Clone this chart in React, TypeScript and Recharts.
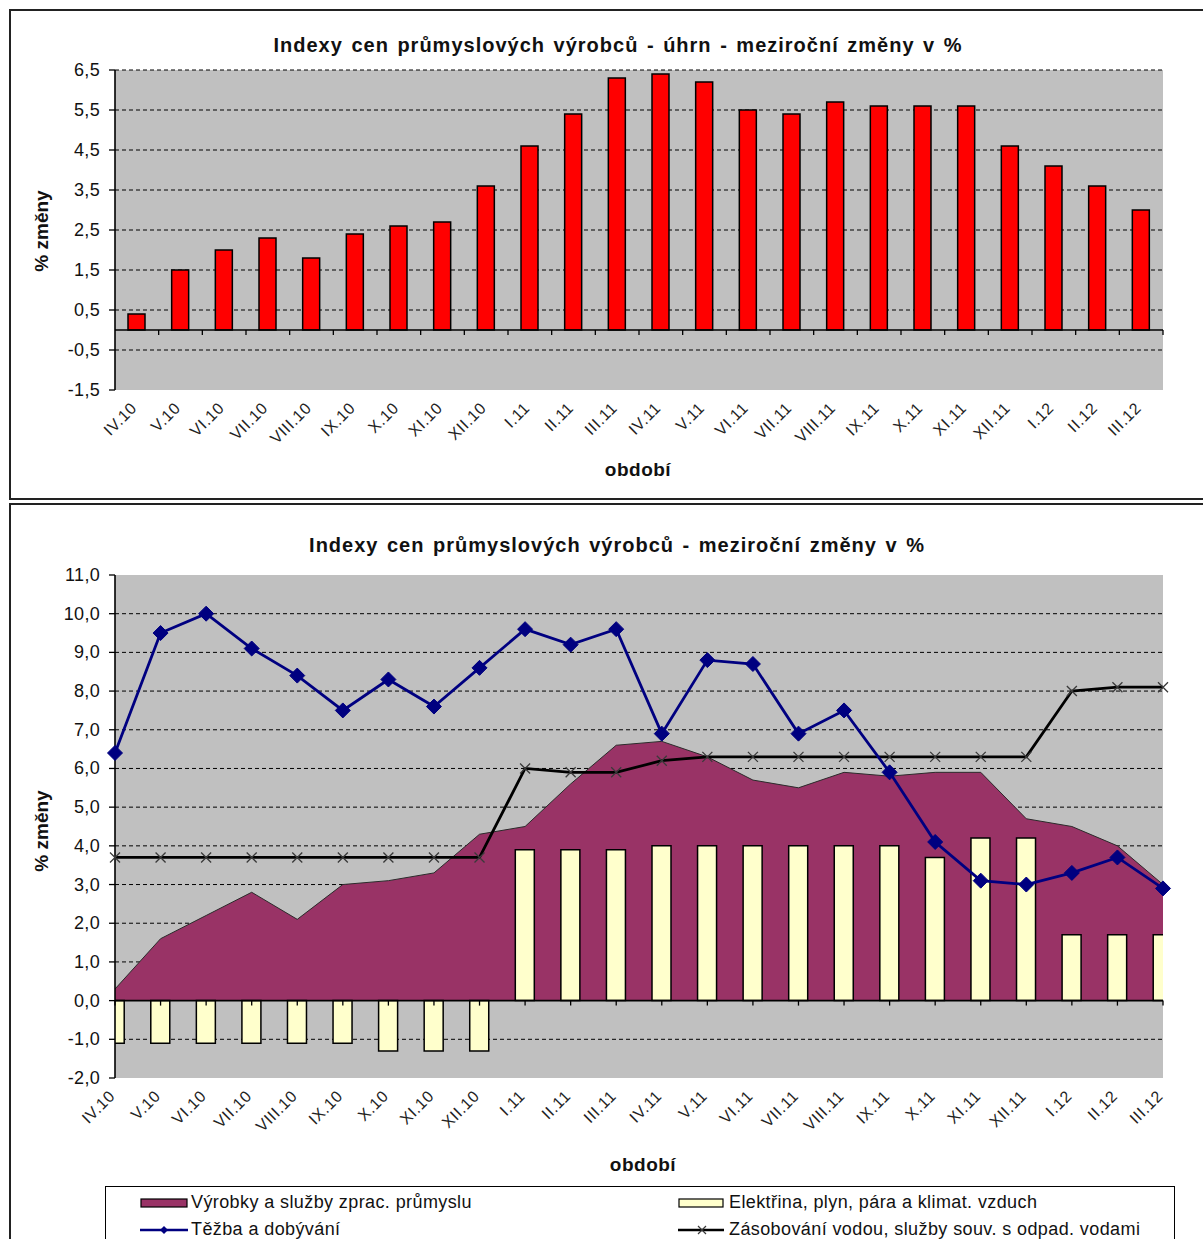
import React from "react";
import {
  BarChart,
  Bar,
  ComposedChart,
  Area,
  Line,
  XAxis,
  YAxis,
  CartesianGrid,
  ReferenceLine,
  ReferenceArea,
} from "recharts";

// období (měsíc.rok)
const months = [
  "IV.10", "V.10", "VI.10", "VII.10", "VIII.10", "IX.10", "X.10", "XI.10", "XII.10",
  "I.11", "II.11", "III.11", "IV.11", "V.11", "VI.11", "VII.11", "VIII.11", "IX.11",
  "X.11", "XI.11", "XII.11", "I.12", "II.12", "III.12",
];

// úhrn
const total = [
  0.4, 1.5, 2.0, 2.3, 1.8, 2.4, 2.6, 2.7, 3.6, 4.6, 5.4, 6.3,
  6.4, 6.2, 5.5, 5.4, 5.7, 5.6, 5.6, 5.6, 4.6, 4.1, 3.6, 3.0,
];

// Výrobky a služby zprac. průmyslu
const manufacturing = [
  0.3, 1.6, 2.2, 2.8, 2.1, 3.0, 3.1, 3.3, 4.3, 4.5, 5.6, 6.6,
  6.7, 6.3, 5.7, 5.5, 5.9, 5.8, 5.9, 5.9, 4.7, 4.5, 4.0, 3.0,
];

// Elektřina, plyn, pára a klimat. vzduch
const energy = [
  -1.1, -1.1, -1.1, -1.1, -1.1, -1.1, -1.3, -1.3, -1.3, 3.9, 3.9, 3.9,
  4.0, 4.0, 4.0, 4.0, 4.0, 4.0, 3.7, 4.2, 4.2, 1.7, 1.7, 1.7,
];

// Těžba a dobývání
const mining = [
  6.4, 9.5, 10.0, 9.1, 8.4, 7.5, 8.3, 7.6, 8.6, 9.6, 9.2, 9.6,
  6.9, 8.8, 8.7, 6.9, 7.5, 5.9, 4.1, 3.1, 3.0, 3.3, 3.7, 2.9,
];

// Zásobování vodou, služby souv. s odpad. vodami
const water = [
  3.7, 3.7, 3.7, 3.7, 3.7, 3.7, 3.7, 3.7, 3.7, 6.0, 5.9, 5.9,
  6.2, 6.3, 6.3, 6.3, 6.3, 6.3, 6.3, 6.3, 6.3, 8.0, 8.1, 8.1,
];

const topTicks = [-1.5, -0.5, 0.5, 1.5, 2.5, 3.5, 4.5, 5.5, 6.5];
const bottomTicks = [-2, -1, 0, 1, 2, 3, 4, 5, 6, 7, 8, 9, 10, 11];

const seriesNames = [
  "Výrobky a služby zprac. průmyslu",
  "Elektřina, plyn, pára a klimat. vzduch",
  "Těžba a dobývání",
  "Zásobování vodou, služby souv. s odpad. vodami",
];

const FONT = '"Liberation Sans", Arial, sans-serif';
const PLOT_BG = "#C0C0C0";
const PLUM = "#993366";
const CREAM = "#FFFFCC";
const NAVY = "#000080";

const topData = months.map((m, i) => ({ m, v: total[i] }));
const bottomData = months.map((m, i) => ({
  i,
  m,
  manufacturing: manufacturing[i],
  energy: energy[i],
  mining: mining[i],
  water: water[i],
}));
const indices = months.map((_, i) => i);

const fmt = (v: number) => v.toFixed(1).replace(".", ",");

// zero line acting as the category axis, with its tick marks spread along it
const zeroAxis = (steps: number, first: number) => (p: any) => {
  const { x1, x2, y1 } = p;
  const marks = [];
  for (let k = first; k <= steps; k++) {
    const x = x1 + ((x2 - x1) * k) / steps;
    marks.push(<line key={k} x1={x} x2={x} y1={y1} y2={y1 + 5} stroke="#000" strokeWidth={1.3} />);
  }
  return (
    <g>
      <line x1={x1} x2={x2} y1={y1} y2={y1} stroke="#000" strokeWidth={1.6} />
      {marks}
    </g>
  );
};

const YTick = (p: any) => (
  <text
    x={p.x - 7}
    y={p.y}
    dy={6}
    textAnchor="end"
    fontSize={18}
    fill="#111"
    fontFamily={FONT}
    letterSpacing={0.3}
  >
    {fmt(p.payload.value)}
  </text>
);

const catTick = (label: (v: any) => string) => (p: any) => {
  const x = p.x + 1;
  const y = p.y + 11;
  return (
    <text
      x={x}
      y={y}
      transform={`rotate(-45, ${x}, ${y})`}
      textAnchor="end"
      fontSize={16}
      fill="#222"
      fontFamily={FONT}
      letterSpacing={0.6}
    >
      {label(p.payload.value)}
    </text>
  );
};

const Diamond = (p: any) => {
  const { cx, cy, index } = p;
  if (cx == null || cy == null) return <g key={index} />;
  const r = 7.5;
  return (
    <path
      key={index}
      d={`M${cx},${cy - r}L${cx + r},${cy}L${cx},${cy + r}L${cx - r},${cy}Z`}
      fill={NAVY}
      stroke={NAVY}
    />
  );
};

const Cross = (p: any) => {
  const { cx, cy, index } = p;
  if (cx == null || cy == null) return <g key={index} />;
  const r = 5;
  return (
    <path
      key={index}
      d={`M${cx - r},${cy - r}L${cx + r},${cy + r}M${cx - r},${cy + r}L${cx + r},${cy - r}`}
      stroke="#3a3a3a"
      strokeWidth={1.3}
      fill="none"
    />
  );
};

function Label({ x, y, text, size = 19, rotate = false, spacing = 0, wordSpacing = 0 }: any) {
  return (
    <div
      style={{
        position: "absolute",
        left: x,
        top: y,
        transform: `translate(-50%, -50%)${rotate ? " rotate(-90deg)" : ""}`,
        fontWeight: "bold",
        fontSize: size,
        letterSpacing: spacing,
        wordSpacing,
        whiteSpace: "nowrap",
        color: "#111",
      }}
    >
      {text}
    </div>
  );
}

function TopChart() {
  return (
    <BarChart
      width={1203}
      height={500}
      data={topData}
      margin={{ top: 70, right: 40, left: 55, bottom: 50 }}
    >
      <CartesianGrid
        vertical={false}
        fill={PLOT_BG}
        fillOpacity={1}
        stroke="#000"
        strokeDasharray="4 3"
        horizontalValues={[6.5, 5.5, 4.5, 3.5, 2.5, 1.5, 0.5, -0.5]}
      />
      <ReferenceArea fill="none" stroke="#8a8a8a" strokeWidth={1.5} />
      <XAxis
        dataKey="m"
        interval={0}
        axisLine={false}
        tickLine={false}
        height={60}
        tick={catTick((v) => v)}
      />
      <YAxis
        domain={[-1.5, 6.5]}
        ticks={topTicks}
        width={60}
        axisLine={{ stroke: "#000", strokeWidth: 1.6 }}
        tickLine={{ stroke: "#000", strokeWidth: 1.3 }}
        tick={YTick}
      />
      <Bar dataKey="v" fill="#FF0000" stroke="#000" strokeWidth={1.5} barSize={17} isAnimationActive={false} />
      <ReferenceLine y={0} shape={zeroAxis(24, 1)} />
    </BarChart>
  );
}

function BottomChart() {
  return (
    <ComposedChart
      width={1203}
      height={680}
      data={bottomData}
      margin={{ top: 72, right: 40, left: 55, bottom: 45 }}
    >
      <CartesianGrid
        vertical={false}
        fill={PLOT_BG}
        fillOpacity={1}
        stroke="#000"
        strokeDasharray="4 3"
        horizontalValues={[10, 9, 8, 7, 6, 5, 4, 3, 2, 1, -1]}
      />
      <ReferenceArea fill="none" stroke="#8a8a8a" strokeWidth={1.5} />
      <XAxis
        dataKey="i"
        type="number"
        domain={[0, 23]}
        ticks={indices}
        interval={0}
        axisLine={false}
        tickLine={false}
        height={60}
        tick={catTick((i) => months[i])}
      />
      {/* same scale, only used so the half bars at both ends get clipped */}
      <XAxis
        xAxisId="clip"
        dataKey="i"
        type="number"
        domain={[0, 23]}
        ticks={indices}
        allowDataOverflow
        hide
      />
      <YAxis
        domain={[-2, 11]}
        ticks={bottomTicks}
        width={60}
        axisLine={{ stroke: "#000", strokeWidth: 1.6 }}
        tickLine={{ stroke: "#000", strokeWidth: 1.3 }}
        tick={YTick}
      />
      <Area
        dataKey="manufacturing"
        type="linear"
        fill={PLUM}
        fillOpacity={1}
        stroke="#2b2b2b"
        strokeWidth={1}
        isAnimationActive={false}
      />
      <Bar
        dataKey="energy"
        xAxisId="clip"
        barSize={19}
        fill={CREAM}
        stroke="#000"
        strokeWidth={1.5}
        isAnimationActive={false}
      />
      <ReferenceLine y={0} shape={zeroAxis(23, 0)} />
      <Line dataKey="water" type="linear" stroke="#000" strokeWidth={2.8} dot={Cross} isAnimationActive={false} />
      <Line dataKey="mining" type="linear" stroke={NAVY} strokeWidth={2.8} dot={Diamond} isAnimationActive={false} />
    </ComposedChart>
  );
}

function Swatch({ kind }: { kind: number }) {
  return (
    <svg width={48} height={14} style={{ display: "block" }}>
      {kind === 0 && <rect x={1} y={3} width={46} height={8} fill={PLUM} stroke="#000" strokeWidth={1.2} />}
      {kind === 1 && <rect x={1} y={3} width={44} height={8} fill={CREAM} stroke="#000" strokeWidth={1.2} />}
      {kind === 2 && (
        <g>
          <line x1={0} x2={48} y1={7} y2={7} stroke={NAVY} strokeWidth={2.6} />
          <path d="M24,3L28,7L24,11L20,7Z" fill={NAVY} />
        </g>
      )}
      {kind === 3 && (
        <g>
          <line x1={0} x2={46} y1={7} y2={7} stroke="#000" strokeWidth={2.6} />
          <path d="M20,3L28,11M20,11L28,3" stroke="#3a3a3a" strokeWidth={1.2} />
        </g>
      )}
    </svg>
  );
}

function LegendBox() {
  const pos = [
    { x: 140, y: 1192 },
    { x: 678, y: 1192 },
    { x: 140, y: 1219 },
    { x: 678, y: 1219 },
  ];
  return (
    <div
      style={{
        position: "absolute",
        left: 105,
        top: 1186,
        width: 1068,
        height: 70,
        border: "1.5px solid #000",
        background: "#fff",
      }}
    >
      {seriesNames.map((name, k) => (
        <div
          key={name}
          style={{
            position: "absolute",
            left: pos[k].x - 106,
            top: pos[k].y - 1187,
            display: "flex",
            alignItems: "center",
            gap: 3,
            fontSize: 18,
            letterSpacing: 0.4,
            color: "#111",
            whiteSpace: "nowrap",
          }}
        >
          <Swatch kind={k} />
          <span>{name}</span>
        </div>
      ))}
    </div>
  );
}

export default function App() {
  return (
    <div
      style={{
        position: "fixed",
        left: 0,
        top: 0,
        width: 1203,
        height: 1239,
        overflow: "hidden",
        background: "#fff",
        fontFamily: FONT,
      }}
    >
      <div
        style={{
          position: "absolute",
          left: 9,
          top: 9,
          width: 1210,
          height: 487,
          border: "2px solid #222",
        }}
      />
      <div
        style={{
          position: "absolute",
          left: 9,
          top: 503,
          width: 1210,
          height: 760,
          border: "2px solid #222",
        }}
      />
      <div style={{ position: "absolute", left: 0, top: 0 }}>
        <TopChart />
      </div>
      <div style={{ position: "absolute", left: 0, top: 503 }}>
        <BottomChart />
      </div>
      <Label x={618} y={45} size={20} spacing={1} wordSpacing={2} text="Indexy cen průmyslových výrobců - úhrn - meziroční změny v %" />
      <Label x={42} y={231} text="% změny" size={19} rotate />
      <Label x={638} y={470} text="období" size={19} spacing={0.5} />
      <Label x={617} y={545} size={20} spacing={1} wordSpacing={2} text="Indexy cen průmyslových výrobců - meziroční změny v %" />
      <Label x={42} y={831} text="% změny" size={19} rotate />
      <Label x={643} y={1165} text="období" size={19} spacing={0.5} />
      <LegendBox />
    </div>
  );
}
